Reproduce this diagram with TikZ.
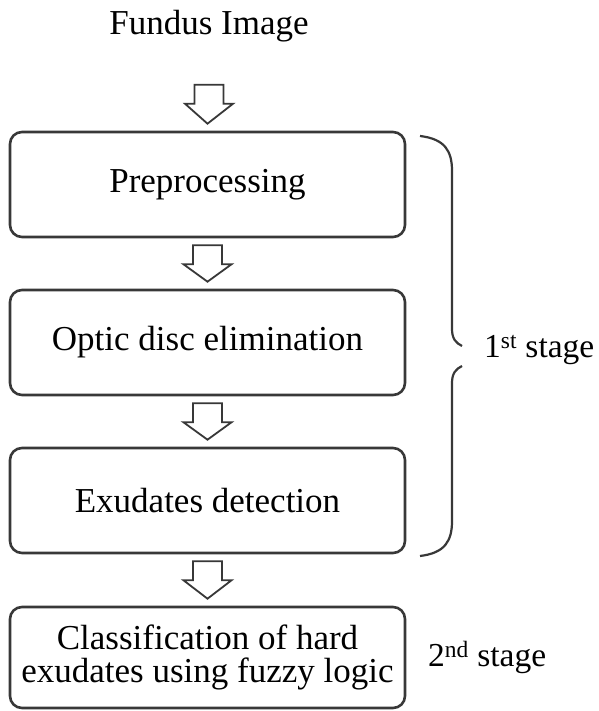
\documentclass[tikz,border=0pt]{standalone}
\usepackage{fontspec}
\setmainfont{Liberation Serif}
\usetikzlibrary{calc}
\definecolor{boxgray}{rgb}{0.22,0.22,0.22}

\begin{document}
\begin{tikzpicture}[x=1pt,y=1pt,
        stagebox/.style={draw=boxgray, line width=2.6pt, rounded corners=12pt,
            minimum width=395pt, minimum height=105pt, inner sep=0pt, align=center,
            font=\fontsize{35}{33}\selectfont},
        blockarrow/.style={draw=boxgray, line width=1.8pt, fill=white, line join=miter},
        tag/.style={inner sep=0pt, font=\fontsize{35}{36}\selectfont},
        stagetag/.style={tag, anchor=base west, font=\fontsize{33.5}{36}\selectfont}]
        % page frame
        \useasboundingbox (0,0) rectangle (598,711);

        % input image
        \node[tag, anchor=base] (fundus) at (209,676) {Fundus Image};

        % processing steps
        \node[stagebox] (pre) at (207.5,526.5) {Preprocessing};
        \node[stagebox] (optic) at (207.5,368.5) {Optic disc elimination};
        \node[stagebox] (exud) at (207.5,210.5) {Exudates detection};
        \node[stagebox, minimum height=101pt] (classify) at (207.5,53.5)
            {Classification of hard\\exudates using fuzzy logic};

        % hollow arrows between the steps
        \foreach \a/\b/\gap in {fundus/pre/42, pre/optic/7, optic/exud/7, exud/classify/7}
            \draw[blockarrow] ($(\a.south)+(-14.5,-\gap)$) -- ++(0,-19) -- ++(-9.5,0)
                -- ($(\b.north)+(0,7)$) -- ($(\a.south)+(24,-\gap-19)$)
                -- ++(-9.5,0) -- ++(0,19) -- cycle;

        % brace over the first three steps
        \draw[boxgray, line width=2.2pt] (420,575) .. controls (445,572) and (452,560) .. (452,540)
            -- (452,382) .. controls (452,372) and (456,368) .. (462,365);
        \draw[boxgray, line width=2.2pt] (462,345) .. controls (456,342) and (452,338) .. (452,328)
            -- (452,190) .. controls (452,170) and (445,158) .. (420,155);

        % stage labels
        \node[stagetag] (first) at (484,353) {1\textsuperscript{st} stage};
        \node[stagetag] (second) at (428,44) {2\textsuperscript{nd} stage};
    \end{tikzpicture}
\end{document}
